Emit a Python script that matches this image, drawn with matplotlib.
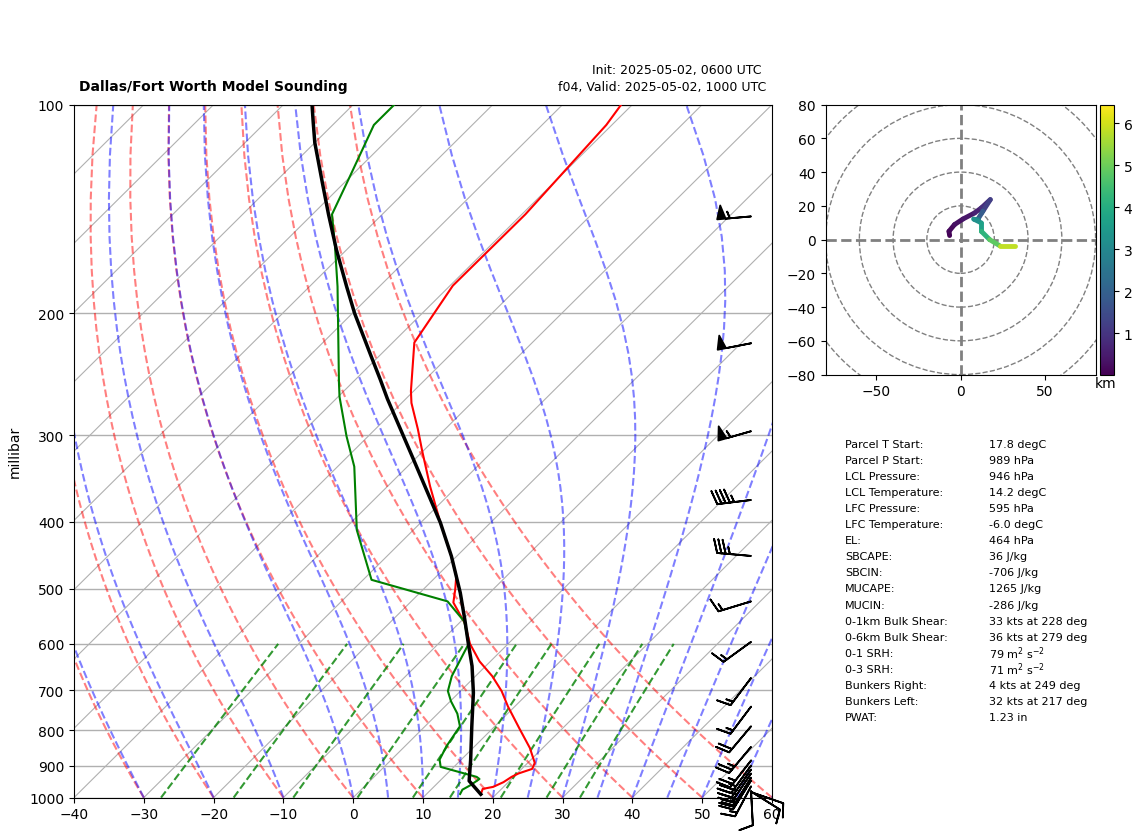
import numpy as np
import matplotlib
matplotlib.use("Agg")
import matplotlib.pyplot as plt
from matplotlib.collections import LineCollection
from matplotlib.colors import Normalize
from matplotlib.patches import Circle
from matplotlib.ticker import ScalarFormatter, NullFormatter
from matplotlib.transforms import Affine2D

# sounding temperature
p_temp = [989, 971.5, 965, 950, 933.5, 923, 909, 891, 848, 798, 738.5, 702, 668, 636, 600, 560,
          523, 501, 479, 448.5, 401, 355.5, 316, 294, 269.5, 259, 220.5, 182.5, 144, 107, 100]
temp = [17.8, 17.3, 18.5, 19.3, 19.7, 20.2, 21.5, 21.0, 18.15, 14.1, 9.0, 5.9, 2.4, -1.55, -5.45, -9.2,
        -13.8, -15.4, -17.2, -20.75, -27.2, -33.9, -40.15, -43.9, -48.6, -50.4, -56.9, -59.6, -59.5, -60.8, -61.6]

# sounding dewpoint
p_dew = [988, 974, 960, 940, 933.5, 903, 881.5, 843, 789, 756.5, 726, 702, 668, 600, 557, 521,
         485, 411, 333, 301, 264, 252, 183, 160, 144, 127, 107, 100]
dewp = [14.8, 14.5, 15.0, 15.4, 14.7, 8.1, 6.9, 5.95, 5.0, 2.8, 0.1, -1.8, -3.4, -5.65, -9.5, -14.8,
        -28.8, -38.1, -47.6, -53.1, -59.8, -61.9, -76.0, -82.2, -87.2, -90.1, -94.1, -94.1]

# parcel profile
p_parcel = [989, 946, 881.5, 789, 706, 646, 598, 553.5, 506.5, 448.5, 401, 321.5, 266, 249.5, 231,
            200, 183, 162, 144, 129.5, 113.5, 106, 100]
parcel = [17.8, 14.2, 11.35, 6.7, 2.1, -1.95, -5.85, -9.7, -14.2, -20.75, -27.2, -40.85, -52.6, -56.4, -61.05,
          -69.7, -74.7, -81.45, -87.7, -93.2, -100.0, -103.2, -105.9]

# winds
p_wind = [145, 221, 296, 372, 448, 521, 596, 672, 739, 789, 845, 884, 899, 911, 923, 936, 945, 963, 979, 980, 982]
wspd = [55, 50, 55, 45, 35, 15, 15, 15, 15, 20, 25, 25, 25, 25, 25, 25, 25, 15, 10, 10, 10]
wdir = [265, 259, 254, 263, 275, 253, 234, 217, 217, 220, 220, 218, 216, 215, 214, 212, 212, 208, 177, 122, 109]

# hodograph
hodo_u = [-6.5, -6.9, -3.6, 1.4, 8.3, 12.3, 17.6, 13.2, 10.3, 7.7, 12.3, 12.3, 17.2, 23.1, 32.0]
hodo_v = [2.4, 4.9, 8.9, 12.2, 15.8, 18.8, 23.7, 16.8, 12.2, 12.2, 9.9, 4.9, 0.0, -3.6, -3.6]
hodo_z = [0.02, 0.1, 0.2, 0.35, 0.5, 0.7, 1.0, 1.5, 2.3, 3.0, 3.5, 3.9, 4.5, 5.2, 6.45]
hodo_rings = [20, 40, 60, 80, 100]

# parameter table
table_names = ["Parcel T Start:", "Parcel P Start:", "LCL Pressure:", "LCL Temperature:", "LFC Pressure:",
               "LFC Temperature:", "EL:", "SBCAPE:", "SBCIN:", "MUCAPE:", "MUCIN:", "0-1km Bulk Shear:",
               "0-6km Bulk Shear:", "0-1 SRH:", "0-3 SRH:", "Bunkers Right:", "Bunkers Left:", "PWAT:"]
table_values = ["17.8 degC", "989 hPa", "946 hPa", "14.2 degC", "595 hPa", "-6.0 degC", "464 hPa", "36 J/kg",
                "-706 J/kg", "1265 J/kg", "-286 J/kg", "33 kts at 228 deg", "36 kts at 279 deg",
                "79 m$^{2}$ s$^{-2}$", "71 m$^{2}$ s$^{-2}$", "4 kts at 249 deg", "32 kts at 217 deg", "1.23 in"]

# background lines of the diagram
isotherms = np.arange(-130, 61, 10)
dry_t0 = np.arange(-40, 61, 10)
moist_t0 = np.concatenate((np.arange(-40, 1, 10), np.arange(5, 61, 5)))
mix_ratios = [0.0004, 0.001, 0.002, 0.004, 0.007, 0.01, 0.016, 0.024, 0.032]
press_bg = np.linspace(1000, 100, 50)
press_mix = np.linspace(1000, 600, 50)


def sat_mixing(t_k, p):
    es = 6.112 * np.exp(17.67 * (t_k - 273.15) / (t_k - 29.65))
    return 0.622 * es / (p - es)


def moist_slope(t_k, p):
    rs = sat_mixing(t_k, p)
    return (287.05 * t_k + 2.501e6 * rs) / (p * (1005.7 + 2.501e6 ** 2 * rs * 0.622 / (287.05 * t_k ** 2)))


def moist_lapse(t0, pressure):
    out = [t0 + 273.15]
    t_k = t0 + 273.15
    for p1, p2 in zip(pressure[:-1], pressure[1:]):
        dp = (p2 - p1) / 10
        p = p1
        for _ in range(10):
            k1 = moist_slope(t_k, p)
            k2 = moist_slope(t_k + dp * k1 / 2, p + dp / 2)
            k3 = moist_slope(t_k + dp * k2 / 2, p + dp / 2)
            k4 = moist_slope(t_k + dp * k3, p + dp)
            t_k = t_k + dp * (k1 + 2 * k2 + 2 * k3 + k4) / 6
            p = p + dp
        out.append(t_k)
    return np.array(out) - 273.15


fig = plt.figure(figsize=(11.42, 8.37), dpi=100)
W, H = 1142.0, 837.0

ax = fig.add_axes([74 / W, 1 - 798.6 / H, 698 / W, 693 / H])
ax.set_yscale("log")
ax.set_xlim(-40, 60)
ax.set_ylim(1000, 100)
ax.autoscale(False)
ax.set_yticks(np.arange(100, 1001, 100))
ax.yaxis.set_major_formatter(ScalarFormatter())
ax.yaxis.set_minor_formatter(NullFormatter())
ax.minorticks_off()
ax.set_xticks(np.arange(-40, 61, 10))
ax.set_ylabel("millibar")
ax.yaxis.set_label_coords(-0.075, 0.5)
ax.yaxis.grid(True, color="#b0b0b0", lw=1.0, zorder=1)
ax.set_axisbelow(True)

# 45 deg skew done in axes coordinates
skew = ax.transScale + ax.transLimits + Affine2D().skew_deg(45, 0) + ax.transAxes

for t in isotherms:
    ax.plot([t, t], [1000, 100], color="#b0b0b0", lw=0.8, transform=skew, zorder=1)
for t in dry_t0:
    t_line = (t + 273.15) * (press_bg / 1000) ** 0.2854 - 273.15
    ax.plot(t_line, press_bg, color="r", ls="--", lw=1.5, alpha=0.5, transform=skew, zorder=2)
for t in moist_t0:
    ax.plot(moist_lapse(t, press_bg), press_bg, color="b", ls="--", lw=1.5, alpha=0.5, transform=skew, zorder=2)
for w in mix_ratios:
    e = press_mix * w / (0.622 + w)
    t_line = 243.5 * np.log(e / 6.112) / (17.67 - np.log(e / 6.112))
    ax.plot(t_line, press_mix, color="g", ls="--", lw=1.5, alpha=0.8, transform=skew, zorder=2)

ax.plot(temp, p_temp, color="r", lw=1.5, transform=skew, zorder=3)
ax.plot(dewp, p_dew, color="g", lw=1.5, transform=skew, zorder=3)
ax.plot(parcel, p_parcel, color="k", lw=2.5, transform=skew, zorder=4)

wind_rad = np.radians(wdir)
u = -np.array(wspd) * np.sin(wind_rad)
v = -np.array(wspd) * np.cos(wind_rad)
ax.barbs(np.full(len(p_wind), 0.97), p_wind, u, v, transform=ax.get_yaxis_transform(),
         clip_on=False, zorder=5, linewidth=1.3)

fig.text(79 / W, 1 - 87.5 / H, "Dallas/Fort Worth Model Sounding", fontsize=10, fontweight="bold", va="center")
fig.text(762 / W, 1 - 70.5 / H, "Init: 2025-05-02, 0600 UTC", fontsize=9, ha="right", va="center")
fig.text(766 / W, 1 - 87.5 / H, "f04, Valid: 2025-05-02, 1000 UTC", fontsize=9, ha="right", va="center")

# hodograph panel
ax2 = fig.add_axes([825.6 / W, 1 - 375.6 / H, 270 / W, 270 / H])
ax2.set_xlim(-80, 80)
ax2.set_ylim(-80, 80)
ax2.set_xticks([-50, 0, 50])
ax2.set_yticks(np.arange(-80, 81, 20))
for r in hodo_rings:
    ax2.add_patch(Circle((0, 0), r, fill=False, ec="gray", ls="--", lw=1.0))
ax2.axhline(0, color="gray", ls="--", lw=2)
ax2.axvline(0, color="gray", ls="--", lw=2)
pts = np.column_stack([hodo_u, hodo_v])
segs = np.stack([pts[:-1], pts[1:]], axis=1)
z = np.array(hodo_z)
lc = LineCollection(segs, cmap="viridis", norm=Normalize(z.min(), z.max()), lw=3.5, capstyle="round", zorder=3)
lc.set_array((z[:-1] + z[1:]) / 2)
ax2.add_collection(lc)

cax = fig.add_axes([1100 / W, 1 - 375.6 / H, 14 / W, 270 / H])
cb = fig.colorbar(lc, cax=cax)
cb.set_ticks([1, 2, 3, 4, 5, 6])
fig.text(1106 / W, 1 - 384.5 / H, "km", fontsize=10, ha="center", va="center")

for i, (name, val) in enumerate(zip(table_names, table_values)):
    y = 1 - (444.6 + 16.1 * i) / H
    fig.text(845 / W, y, name, fontsize=8, va="center")
    fig.text(989 / W, y, val, fontsize=8, va="center")

fig.savefig("out.png", dpi=100)
